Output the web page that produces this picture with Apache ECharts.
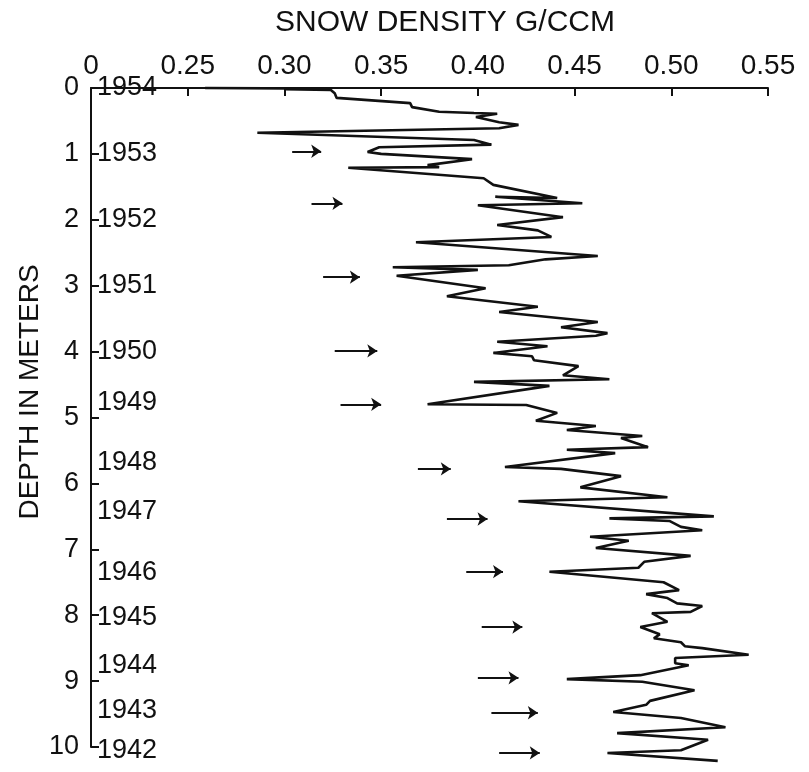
<!DOCTYPE html>
<html>
<head>
<meta charset="utf-8">
<title>Snow density</title>
<script src="https://cdn.jsdelivr.net/npm/echarts@6/dist/echarts.min.js"></script>
<style>
  html, body { margin: 0; padding: 0; background: #fff; }
  #chart { width: 809px; height: 772px; }
</style>
</head>
<body>
<div id="chart"></div>
<script>
// density profile (depth in m, density in g/ccm)
var depth = [0.00, 0.01, 0.02, 0.03, 0.08, 0.15, 0.23, 0.29, 0.36, 0.38, 0.39, 0.44, 0.52, 0.56, 0.61, 0.68,
    0.79, 0.86, 0.90, 0.97, 1.00, 1.08, 1.17, 1.20, 1.21, 1.37, 1.47, 1.67, 1.65, 1.75, 1.78, 1.96,
    2.08, 2.16, 2.26, 2.34, 2.55, 2.60, 2.69, 2.72, 2.76, 2.85, 3.04, 3.16, 3.32, 3.40, 3.55, 3.63,
    3.72, 3.76, 3.85, 3.92, 4.02, 4.07, 4.13, 4.22, 4.36, 4.42, 4.46, 4.52, 4.80, 4.81, 4.93, 5.05,
    5.13, 5.19, 5.28, 5.31, 5.45, 5.49, 5.54, 5.75, 5.78, 5.89, 6.06, 6.21, 6.27, 6.50, 6.53, 6.57,
    6.66, 6.71, 6.81, 6.87, 6.98, 7.10, 7.19, 7.28, 7.34, 7.50, 7.62, 7.68, 7.74, 7.82, 7.86, 7.95,
    7.97, 8.10, 8.18, 8.29, 8.35, 8.41, 8.47, 8.50, 8.60, 8.65, 8.73, 8.76, 8.91, 8.97, 9.01, 9.14,
    9.30, 9.36, 9.47, 9.56, 9.70, 9.79, 9.89, 10.05, 10.09, 10.21];
var density = [0.259, 0.322, 0.300, 0.324, 0.326, 0.327, 0.365, 0.366, 0.380, 0.398, 0.410, 0.399, 0.411, 0.421, 0.411, 0.286,
    0.398, 0.407, 0.349, 0.343, 0.350, 0.397, 0.374, 0.380, 0.333, 0.403, 0.408, 0.441, 0.409, 0.454, 0.400, 0.444,
    0.410, 0.431, 0.438, 0.368, 0.462, 0.435, 0.416, 0.356, 0.400, 0.358, 0.404, 0.384, 0.431, 0.411, 0.462, 0.443,
    0.467, 0.461, 0.410, 0.436, 0.408, 0.428, 0.429, 0.452, 0.444, 0.468, 0.398, 0.437, 0.374, 0.425, 0.441, 0.430,
    0.461, 0.446, 0.485, 0.474, 0.488, 0.446, 0.471, 0.414, 0.443, 0.474, 0.453, 0.498, 0.421, 0.522, 0.468, 0.499,
    0.505, 0.516, 0.458, 0.478, 0.461, 0.510, 0.486, 0.483, 0.437, 0.496, 0.504, 0.487, 0.498, 0.503, 0.516, 0.510,
    0.490, 0.498, 0.484, 0.494, 0.491, 0.505, 0.507, 0.516, 0.540, 0.502, 0.502, 0.509, 0.484, 0.446, 0.485, 0.512,
    0.489, 0.487, 0.470, 0.505, 0.528, 0.472, 0.519, 0.505, 0.467, 0.524];

// annual layer labels
var years = ['1954', '1953', '1952', '1951', '1950', '1949', '1948', '1947', '1946', '1945', '1944', '1943', '1942'];
var yearDepth = [0, 1, 2, 3, 4, 4.78, 5.69, 6.43, 7.36, 8.04, 8.76, 9.44, 10.05];

// arrows (summer layers)
var arrowDepth = [0.96, 1.75, 2.87, 3.99, 4.80, 5.78, 6.54, 7.34, 8.18, 8.95, 9.48, 10.09];
var arrowFrom = [0.304, 0.314, 0.320, 0.326, 0.329, 0.369, 0.384, 0.394, 0.402, 0.400, 0.407, 0.411];
var arrowTo = [0.319, 0.330, 0.339, 0.348, 0.350, 0.386, 0.405, 0.413, 0.423, 0.421, 0.431, 0.432];

var font = 'Liberation Sans';
var ink = '#111';

var profile = depth.map(function (d, i) { return [density[i], d]; });
var yearPts = years.map(function (y, i) { return [0.2, yearDepth[i], y]; });
var arrows = arrowDepth.map(function (d, i) {
    return { coords: [[arrowFrom[i], d], [arrowTo[i], d]] };
});

var myChart = echarts.init(document.getElementById('chart'));

var option = {
    animation: false,
    backgroundColor: '#fff',
    title: {
        text: 'SNOW DENSITY G/CCM',
        left: 270,
        top: 3,
        textStyle: { fontFamily: font, fontSize: 30, fontWeight: 'normal', color: ink }
    },
    graphic: [
        {
            type: 'text',
            x: 16,
            y: 392,
            rotation: Math.PI / 2,
            style: {
                text: 'DEPTH IN METERS',
                font: '28px "Liberation Sans"',
                fill: ink,
                align: 'center',
                verticalAlign: 'top'
            }
        }
    ],
    grid: {
        left: 91,
        right: 41,
        top: 88,
        bottom: 25
    },
    xAxis: {
        type: 'value',
        position: 'top',
        min: 0.2,
        max: 0.55,
        interval: 0.05,
        splitLine: { show: false },
        axisLine: { lineStyle: { color: ink, width: 2 } },
        axisTick: { inside: true, length: 8, lineStyle: { color: ink, width: 2 } },
        axisLabel: {
            showMinLabel: true,
            showMaxLabel: true,
            margin: 8,
            fontFamily: font,
            fontSize: 28,
            color: ink,
            formatter: function (v) {
                return Math.abs(v - 0.2) < 1e-6 ? '0' : v.toFixed(2);
            }
        }
    },
    yAxis: {
        type: 'value',
        inverse: true,
        min: 0,
        max: 10,
        interval: 1,
        splitLine: { show: false },
        axisLine: { lineStyle: { color: ink, width: 2 } },
        axisTick: { inside: true, length: 8, lineStyle: { color: ink, width: 2 } },
        axisLabel: { margin: 12, fontFamily: font, fontSize: 27, color: ink }
    },
    series: [
        {
            type: 'line',
            data: profile,
            showSymbol: false,
            clip: false,
            lineStyle: { color: ink, width: 2.6 }
        },
        {
            type: 'lines',
            coordinateSystem: 'cartesian2d',
            data: arrows,
            clip: false,
            symbol: ['none', 'arrow'],
            symbolSize: 10,
            lineStyle: { color: ink, width: 2, opacity: 1 }
        },
        {
            type: 'scatter',
            data: yearPts,
            symbolSize: 0,
            clip: false,
            itemStyle: { color: ink, opacity: 1 },
            label: {
                show: true,
                position: 'right',
                distance: 6,
                fontFamily: font,
                fontSize: 27,
                color: ink,
                opacity: 1,
                formatter: function (p) { return p.value[2]; }
            }
        }
    ]
};

if (option && typeof option === "object") {
    myChart.setOption(option, true);
}
</script>
</body>
</html>
